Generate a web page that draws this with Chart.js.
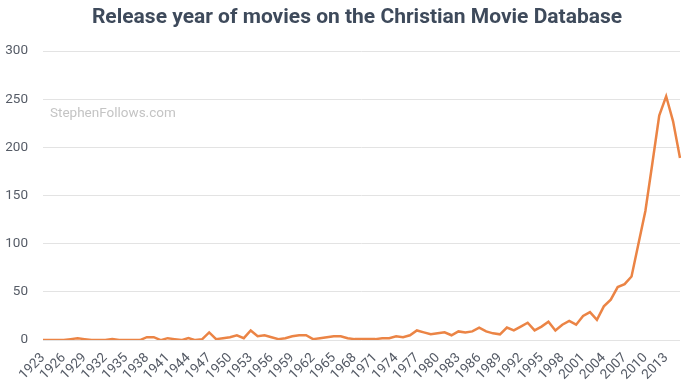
<!DOCTYPE html>
<html>
<head>
<meta charset="utf-8">
<title>Release year of movies on the Christian Movie Database</title>
<script src="https://cdn.jsdelivr.net/npm/chart.js@4"></script>
<style>
  html, body { margin: 0; padding: 0; background: #fff; }
  #wrap { width: 700px; height: 389px; }
</style>
</head>
<body>
<div id="wrap"><canvas id="chart" width="700" height="389"></canvas></div>
<script>
var years = [
  1923, 1924, 1925, 1926, 1927, 1928, 1929, 1930, 1931, 1932,
  1933, 1934, 1935, 1936, 1937, 1938, 1939, 1940, 1941, 1942,
  1943, 1944, 1945, 1946, 1947, 1948, 1949, 1950, 1951, 1952,
  1953, 1954, 1955, 1956, 1957, 1958, 1959, 1960, 1961, 1962,
  1963, 1964, 1965, 1966, 1967, 1968, 1969, 1970, 1971, 1972,
  1973, 1974, 1975, 1976, 1977, 1978, 1979, 1980, 1981, 1982,
  1983, 1984, 1985, 1986, 1987, 1988, 1989, 1990, 1991, 1992,
  1993, 1994, 1995, 1996, 1997, 1998, 1999, 2000, 2001, 2002,
  2003, 2004, 2005, 2006, 2007, 2008, 2009, 2010, 2011, 2012,
  2013, 2014, 2015
];
var movieCounts = [
  0, 0, 0, 0, 1, 2, 1, 0, 0, 0,
  1, 0, 0, 0, 0, 3, 3, 0, 2, 1,
  0, 2, 0, 1, 8, 1, 2, 3, 5, 2,
  10, 4, 5, 3, 1, 2, 4, 5, 5, 1,
  2, 3, 4, 4, 2, 1, 1, 1, 1, 2,
  2, 4, 3, 5, 10, 8, 6, 7, 8, 5,
  9, 8, 9, 13, 9, 7, 6, 13, 10, 14,
  18, 10, 14, 19, 10, 16, 20, 16, 25, 29,
  21, 35, 42, 55, 58, 66, 100, 134, 183, 233,
  253, 227, 189
];
var yTicks = [0, 50, 100, 150, 200, 250, 300];

var chartTitle = "Release year of movies on the Christian Movie Database";
var watermark = "StephenFollows.com";

window.addEventListener('load', init);

function init() {
  plotMovies();
}

// title and watermark drawn by hand so the title can sit where the original has it
var textPlugin = {
  id: 'texts',
  beforeDatasetsDraw: function(chart) {
    var ctx = chart.ctx;
    ctx.save();
    ctx.font = "13.5px Roboto";
    ctx.fillStyle = "#c4c4c4";
    ctx.textBaseline = "middle";
    ctx.textAlign = "left";
    ctx.fillText(watermark, 50, 114);

    ctx.font = "bold 21px Roboto";
    ctx.fillStyle = "#3e4a5b";
    ctx.textAlign = "center";
    ctx.fillText(chartTitle, 357, 18);
    ctx.restore();
  }
};

function plotMovies() {
  new Chart('chart', {
    type: 'line',
    data: {
      labels: years.map(String),
      datasets: [
        {
          label: "Movies",
          data: movieCounts,
          borderColor: "#eb8445",
          borderWidth: 2.5,
          pointRadius: 0,
          tension: 0,
          fill: false
        }
      ]
    },
    options: {
      responsive: false,
      animation: false,
      layout: { padding: { left: 0, right: 20, top: 51, bottom: 4 } },
      plugins: {
        legend: { display: false },
        tooltip: { enabled: false },
        title: { display: false }
      },
      scales: {
        x: {
          offset: false,
          grid: { display: false },
          border: { display: false },
          ticks: {
            autoSkip: false,
            maxRotation: 45,
            minRotation: 45,
            color: "#555b66",
            font: { family: "Roboto", size: 13.5 },
            padding: 2,
            callback: function(val, i) {
              return (years[i] - 1923) % 3 === 0 ? years[i] : null;
            }
          }
        },
        y: {
          min: 0,
          max: 300,
          afterBuildTicks: function(axis) {
            axis.ticks = yTicks.map(function(v) { return { value: v }; });
          },
          afterFit: function(axis) {
            axis.width = 43;
          },
          grid: { color: "#e3e3e3", drawTicks: false },
          border: { display: false },
          ticks: {
            color: "#555b66",
            font: { family: "Roboto", size: 13.5 },
            padding: 15
          }
        }
      }
    },
    plugins: [textPlugin]
  });
}

function id(id) {
  return document.getElementById(id);
}
</script>
</body>
</html>
